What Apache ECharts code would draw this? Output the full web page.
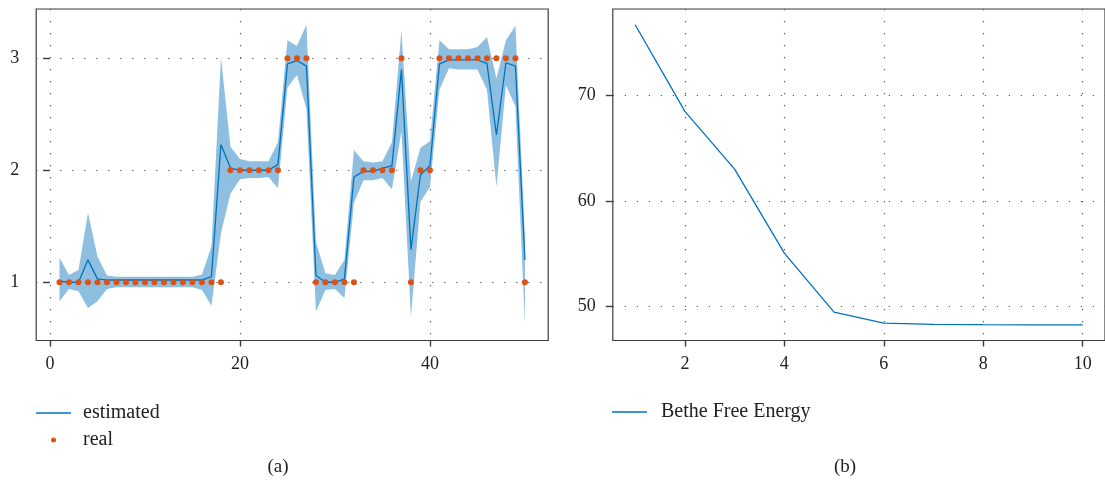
<!DOCTYPE html>
<html>
<head>
<meta charset="utf-8">
<title>Estimated vs real states and Bethe free energy</title>
<script src="https://cdn.jsdelivr.net/npm/echarts@6/dist/echarts.min.js"></script>
<style>
  html, body { margin: 0; padding: 0; background: #fff; }
  #chart { width: 1105px; height: 485px; }
</style>
</head>
<body>
<div id="chart"></div>
<script>
// (a) time steps with estimated state, its uncertainty band and the real state
const steps = [1, 2, 3, 4, 5, 6, 7, 8, 9, 10, 11, 12, 13, 14, 15, 16, 17, 18, 19, 20,
  21, 22, 23, 24, 25, 26, 27, 28, 29, 30, 31, 32, 33, 34, 35, 36, 37, 38, 39, 40,
  41, 42, 43, 44, 45, 46, 47, 48, 49, 50];
const estimated = [1.01, 1.00, 1.00, 1.20, 1.03, 1.02, 1.02, 1.02, 1.02, 1.02,
  1.02, 1.02, 1.02, 1.02, 1.02, 1.02, 1.05, 2.23, 2.02, 2.00,
  2.00, 2.00, 2.00, 2.05, 2.95, 2.98, 2.93, 1.06, 1.00, 1.00,
  1.03, 1.94, 1.99, 1.99, 2.02, 2.04, 2.90, 1.29, 1.96, 2.04,
  2.95, 2.985, 2.985, 2.985, 2.985, 2.955, 2.315, 2.96, 2.93, 1.20];
const upperBound = [1.22, 1.065, 1.11, 1.62, 1.23, 1.06, 1.05, 1.05, 1.05, 1.05,
  1.05, 1.05, 1.05, 1.05, 1.05, 1.07, 1.32, 3.01, 2.21, 2.10,
  2.08, 2.08, 2.08, 2.25, 3.16, 3.11, 3.30, 1.36, 1.08, 1.065,
  1.20, 2.18, 2.08, 2.07, 2.08, 2.25, 3.25, 1.90, 2.20, 2.26,
  3.16, 3.08, 3.08, 3.08, 3.10, 3.19, 2.82, 3.16, 3.29, 1.40];
const lowerBound = [0.83, 0.94, 0.92, 0.77, 0.83, 0.94, 0.955, 0.955, 0.955, 0.955,
  0.955, 0.955, 0.955, 0.955, 0.955, 0.93, 0.79, 1.44, 1.79, 1.92,
  1.93, 1.93, 1.94, 1.84, 2.74, 2.85, 2.55, 0.74, 0.93, 0.94,
  0.86, 1.71, 1.91, 1.91, 1.93, 1.83, 2.35, 0.69, 1.72, 1.85,
  2.72, 2.91, 2.90, 2.90, 2.90, 2.72, 1.85, 2.76, 2.57, 0.62];
const real = [1, 1, 1, 1, 1, 1, 1, 1, 1, 1, 1, 1, 1, 1, 1, 1, 1, 1, 2, 2,
  2, 2, 2, 2, 3, 3, 3, 1, 1, 1, 1, 1, 2, 2, 2, 2, 3, 1, 2, 2,
  3, 3, 3, 3, 3, 3, 3, 3, 3, 1];
const ticksA_x = [0, 20, 40];
const ticksA_y = [1, 2, 3];

// (b) Bethe free energy per iteration
const iterations = [1, 2, 3, 4, 5, 6, 7, 8, 9, 10];
const betheEnergy = [76.74, 68.51, 63.04, 55.06, 49.47, 48.42, 48.30, 48.27, 48.26, 48.26];
const ticksB_x = [2, 4, 6, 8, 10];
const ticksB_y = [50, 60, 70];

const FONT = 'Liberation Serif';
const BLUE = '#0072bd';
const BAND = '#8ebfe0';
const ORANGE = '#d95319';
const AXIS = '#3c3c3c';
const DOT_GRID = '#555';

function axisCommon(ticks, min, max, gridIndex, isX) {
  return {
    type: 'value',
    gridIndex: gridIndex,
    min: min,
    max: max,
    axisLine: { show: false },
    axisTick: {
      show: true, inside: false, length: isX ? 6 : 7, customValues: ticks,
      lineStyle: { color: AXIS, width: 1.4 }
    },
    axisLabel: {
      show: true, customValues: ticks, margin: isX ? 15 : 17,
      color: '#222', fontFamily: FONT, fontSize: 18
    },
    splitLine: {
      show: true,
      lineStyle: { color: DOT_GRID, width: 1.2, type: [1.2, 10.8] }
    }
  };
}

const legendText = { fontFamily: FONT, fontSize: 20, color: '#222' };

const chart = echarts.init(document.getElementById('chart'), null, { renderer: 'canvas' });

const option = {
  animation: false,
  backgroundColor: '#fff',
  grid: [
    { left: 36.2, top: 9, width: 512, height: 331.5, show: true,
      borderColor: AXIS, borderWidth: 1.2, backgroundColor: 'transparent' },
    { left: 612.8, top: 9, width: 500, height: 331.5, show: true,
      borderColor: AXIS, borderWidth: 1.2, backgroundColor: 'transparent' }
  ],
  xAxis: [
    axisCommon(ticksA_x, -1.45, 52.45, 0, true),
    axisCommon(ticksB_x, 0.55, 10.45, 1, true)
  ],
  yAxis: [
    axisCommon(ticksA_y, 0.48, 3.44, 0, false),
    axisCommon(ticksB_y, 46.77, 78.23, 1, false)
  ],
  legend: [
    { data: ['estimated'], left: 36, top: 403, padding: 0, orient: 'vertical',
      icon: 'rect', itemWidth: 35, itemHeight: 1.5,
      textStyle: Object.assign({ padding: [0, 0, 0, 7] }, legendText) },
    { data: ['real'], left: 51, top: 430, padding: 0, orient: 'vertical',
      icon: 'circle', itemWidth: 5, itemHeight: 5,
      textStyle: Object.assign({ padding: [0, 0, 0, 22] }, legendText) },
    { data: ['Bethe Free Energy'], left: 612, top: 402, padding: 0, orient: 'vertical',
      icon: 'rect', itemWidth: 35, itemHeight: 1.5,
      textStyle: Object.assign({ padding: [0, 0, 0, 9] }, legendText) }
  ],
  graphic: [
    { type: 'text', x: 278, y: 467,
      style: { text: '(a)', font: '19px "Liberation Serif"', fill: '#222',
        textAlign: 'center', textVerticalAlign: 'middle' } },
    { type: 'text', x: 845, y: 467,
      style: { text: '(b)', font: '19px "Liberation Serif"', fill: '#222',
        textAlign: 'center', textVerticalAlign: 'middle' } }
  ],
  series: [
    {
      // uncertainty band around the estimate, one closed polygon
      type: 'custom',
      name: 'band',
      xAxisIndex: 0, yAxisIndex: 0,
      silent: true,
      z: 1,
      data: steps.map((s, i) => [s, upperBound[i], lowerBound[i]]),
      encode: { x: 0, y: [1, 2] },
      renderItem: function (params, api) {
        if (params.dataIndex !== 0) return null;
        const pts = [];
        for (let i = 0; i < steps.length; i++) pts.push(api.coord([steps[i], upperBound[i]]));
        for (let i = steps.length - 1; i >= 0; i--) pts.push(api.coord([steps[i], lowerBound[i]]));
        return { type: 'polygon', shape: { points: pts }, style: { fill: BAND } };
      }
    },
    {
      type: 'line',
      name: 'estimated',
      xAxisIndex: 0, yAxisIndex: 0,
      z: 2,
      symbol: 'none',
      showSymbol: false,
      data: steps.map((s, i) => [s, estimated[i]]),
      lineStyle: { color: BLUE, width: 1.3 },
      itemStyle: { color: BLUE }
    },
    {
      type: 'scatter',
      name: 'real',
      xAxisIndex: 0, yAxisIndex: 0,
      z: 3,
      symbolSize: 6,
      data: steps.map((s, i) => [s, real[i]]),
      itemStyle: { color: ORANGE, opacity: 1 }
    },
    {
      type: 'line',
      name: 'Bethe Free Energy',
      xAxisIndex: 1, yAxisIndex: 1,
      symbol: 'none',
      showSymbol: false,
      data: iterations.map((s, i) => [s, betheEnergy[i]]),
      lineStyle: { color: BLUE, width: 1.3 },
      itemStyle: { color: BLUE }
    }
  ]
};

chart.setOption(option);
</script>
</body>
</html>
